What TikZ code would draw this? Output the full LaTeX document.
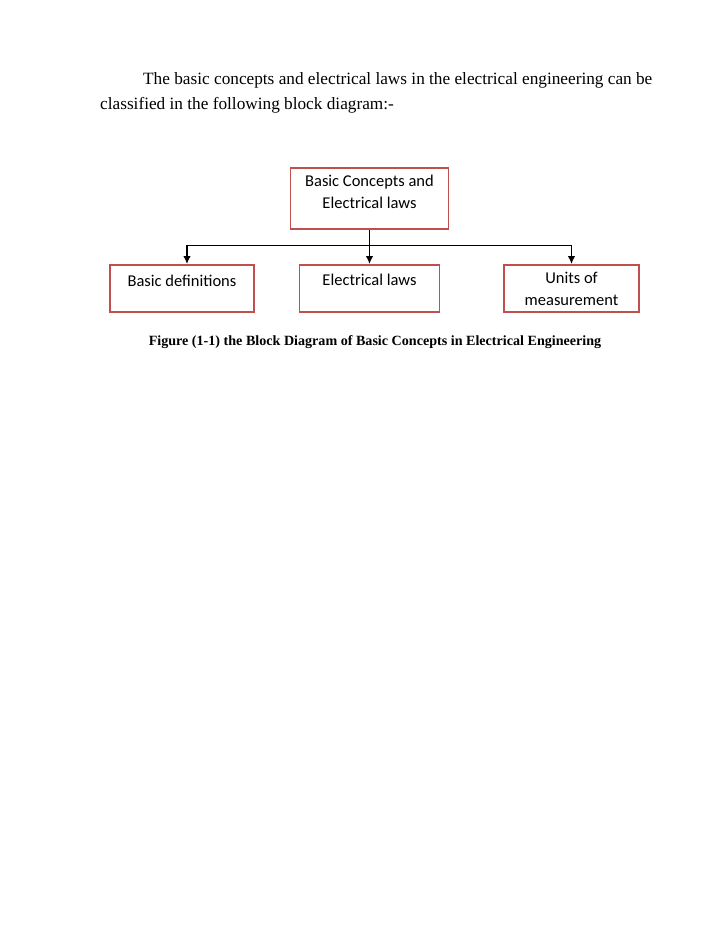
\documentclass[tikz,border=0pt]{standalone}
\usepackage{fontspec}
\setmainfont{Liberation Serif}
\newfontfamily\calibri{Carlito}
\usepackage{tikz}
\usetikzlibrary{arrows,arrows.meta,calc,positioning,shapes}
\definecolor{boxred}{RGB}{192,80,77}
\newcommand{\blockfont}{\calibri\fontsize{16.5}{22.5}\selectfont}
\newcommand{\twolines}[2]{\begin{tabular}[t]{@{}c@{}}#1\\#2\end{tabular}}
\tikzstyle{block}=[draw=boxred, line width=1.8pt, inner sep=0pt, font=\blockfont]
\tikzstyle{topblock}=[block, minimum width=158pt, text height=18pt, text depth=43pt]
\tikzstyle{subblock}=[block, minimum width=140pt, text height=20pt, text depth=27pt]
\tikzstyle{textbox}=[inner sep=0pt, font=\fontsize{17.25}{25}\selectfont]
\tikzstyle{caption}=[inner sep=0pt, font=\bfseries\fontsize{14.1}{16}\selectfont]
\tikzset{%
    link/.style={-{Latex[length=8pt,width=7.5pt]},line width=1.6pt},
  }

\begin{document}
\begin{tikzpicture}[x=1pt, y=1pt]
    \useasboundingbox (0,0) rectangle (720,-931);
    \node (intro) [textbox, align=left, anchor=base west] at (100,-110)
      {\hspace{43pt}The basic concepts and electrical laws in the electrical engineering can be\\classified in the following block diagram:-};
    %
    \node (top) [topblock] at (369.5,-198.5) {\twolines{Basic Concepts and}{Electrical laws}};
    \node (laws) [subblock, below of=top, node distance=90pt] {Electrical laws};
    \node (defs) [subblock, minimum width=144pt, text height=21pt, text depth=26pt, left of=laws, node distance=187.5pt] {Basic definitions};
    \node (units) [subblock, minimum width=135pt, text height=18pt, text depth=29pt, right of=laws, node distance=202pt] {\twolines{Units of}{measurement}};
    \coordinate (fork) at ($(top.south)+(0,-15.5)$);
    %
    \draw [link] (top) -- (laws);
    \draw [link] (fork) -| ($(defs.north)+(5,0)$);
    \draw [link] (fork) -| (units);
    %
    \node (cap) [caption, anchor=base] at (375,-345) {Figure (1-1) the Block Diagram of Basic Concepts in Electrical Engineering};
  \end{tikzpicture}
\end{document}
